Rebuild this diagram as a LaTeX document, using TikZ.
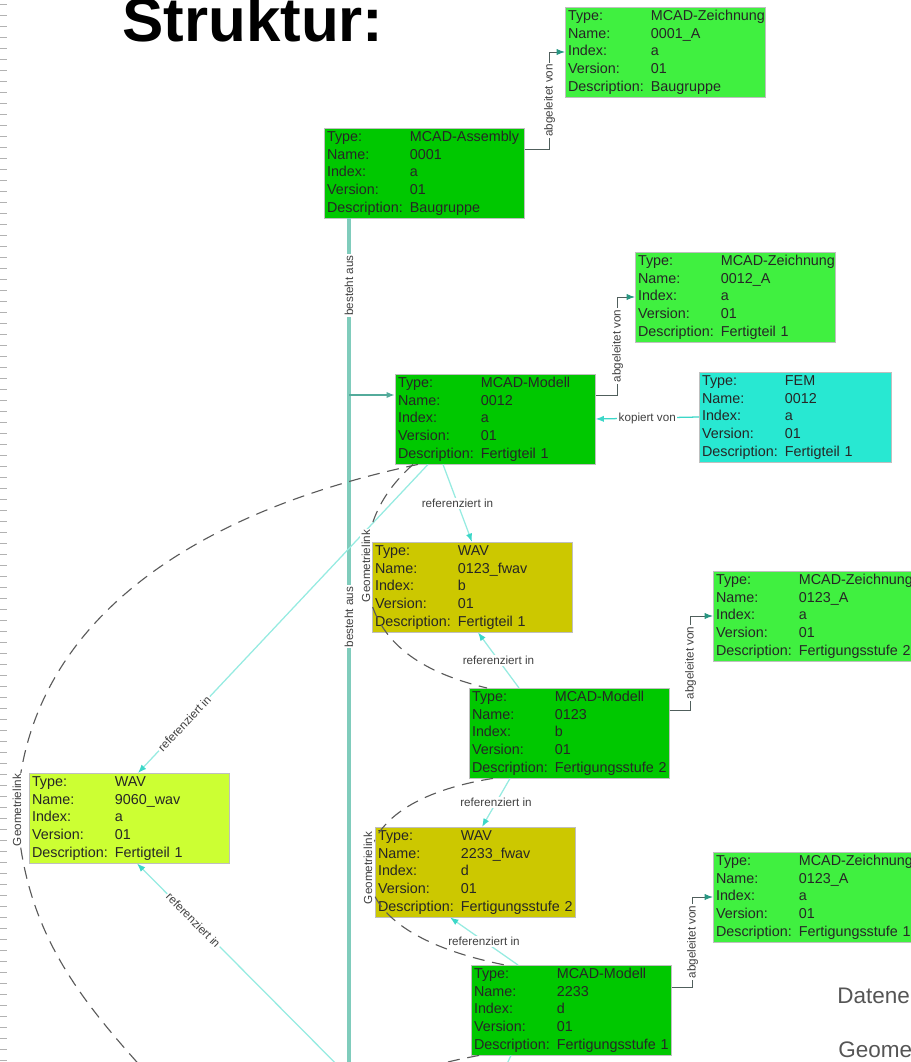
\documentclass[tikz,border=0pt]{standalone}
\usepackage{fontspec}
\setmainfont{Liberation Sans}
\usetikzlibrary{positioning,calc,arrows.meta}

\definecolor{mcadgreen}{RGB}{0,200,0}
\definecolor{zeichgreen}{RGB}{64,240,64}
\definecolor{femcyan}{RGB}{40,232,210}
\definecolor{fwavolive}{RGB}{204,200,0}
\definecolor{wavlime}{RGB}{204,255,51}
\definecolor{trunkline}{RGB}{128,204,188}
\definecolor{arrowteal}{RGB}{40,150,130}
\definecolor{derivline}{RGB}{80,95,92}
\definecolor{refline}{RGB}{150,235,225}
\definecolor{reftip}{RGB}{60,215,200}
\definecolor{geolink}{RGB}{90,90,90}
\definecolor{slidegray}{RGB}{85,85,85}

\newcommand{\attrtable}[5]{%
\begin{tabular}{@{}l@{ }l@{}}
Type: & #1\\
Name: & #2\\
Index: & #3\\
Version: & #4\\
Description: & #5
\end{tabular}}

\begin{document}
\begin{tikzpicture}[x=0.025cm, y=-0.025cm,
>={Latex[length=6pt,width=4.5pt]},
attrbox/.style={anchor=north west, inner xsep=2pt, inner ysep=0.5pt, text width=4.86cm,
align=left, text=black!85, draw=black!25, line width=0.3pt,
font=\fontsize{10.2}{12.6}\selectfont},
mcadbox/.style={attrbox, fill=mcadgreen},
zeichbox/.style={attrbox, fill=zeichgreen},
fembox/.style={attrbox, fill=femcyan, text width=4.66cm},
fwavbox/.style={attrbox, fill=fwavolive},
wavbox/.style={attrbox, fill=wavlime},
lbl/.style={font=\fontsize{8.3}{10}\selectfont, text=black!75, fill=white, inner sep=1pt},
trunk/.style={draw=trunkline, line width=2.2pt},
branch/.style={draw=arrowteal!80, line width=1.2pt, ->},
derived/.style={draw=derivline, line width=0.7pt, >={Latex[length=6pt,width=4.5pt,color=arrowteal]}, ->},
copied/.style={draw=reftip, line width=0.9pt, ->},
referenced/.style={draw=refline, line width=0.9pt, >={Latex[length=6pt,width=4.5pt,color=reftip]}, ->},
geometry/.style={draw=geolink, line width=0.8pt, dash pattern=on 8.5pt off 5.5pt},
edgetick/.style={draw=black!30, line width=0.6pt},
slidetext/.style={text=slidegray, inner sep=0pt, anchor=base west}
]
\useasboundingbox (0,0) rectangle (911,1062);
\clip (0,0) rectangle (911,1062);

%Slide
\foreach \y in {4,15,...,1062} \draw[edgetick] (0,\y) -- (7,\y);
\node[slidetext, font=\fontsize{44}{44}\selectfont\bfseries, text=black] (title) at (122,42) {Struktur:};
\node[slidetext, font=\fontsize{16}{19}\selectfont] (daten) at (837,1003) {Datene};
\node[slidetext, font=\fontsize{16}{19}\selectfont] (geom) at (838,1057) {Geome};

%Nodes
\node[zeichbox] (zeich1) at (565,7)   {\attrtable{MCAD-Zeichnung}{0001\_A}{a}{01}{Baugruppe}};
\node[mcadbox]  (asm)    at (324,128) {\attrtable{MCAD-Assembly}{0001}{a}{01}{Baugruppe}};
\node[zeichbox] (zeich2) at (635,252) {\attrtable{MCAD-Zeichnung}{0012\_A}{a}{01}{Fertigteil 1}};
\node[mcadbox]  (mod1)   at (395,374) {\attrtable{MCAD-Modell}{0012}{a}{01}{Fertigteil 1}};
\node[fembox]   (fem)    at (699,372) {\attrtable{FEM}{0012}{a}{01}{Fertigteil 1}};
\node[fwavbox]  (fwav1)  at (372,542) {\attrtable{WAV}{0123\_fwav}{b}{01}{Fertigteil 1}};
\node[zeichbox] (zeich3) at (713,571) {\attrtable{MCAD-Zeichnung}{0123\_A}{a}{01}{Fertigungsstufe 2}};
\node[mcadbox]  (mod2)   at (469,688) {\attrtable{MCAD-Modell}{0123}{b}{01}{Fertigungsstufe 2}};
\node[wavbox]   (wav)    at (29,773)  {\attrtable{WAV}{9060\_wav}{a}{01}{Fertigteil 1}};
\node[fwavbox]  (fwav2)  at (375,827) {\attrtable{WAV}{2233\_fwav}{d}{01}{Fertigungsstufe 2}};
\node[zeichbox] (zeich4) at (713,852) {\attrtable{MCAD-Zeichnung}{0123\_A}{a}{01}{Fertigungsstufe 1}};
\node[mcadbox]  (mod3)   at (471,965) {\attrtable{MCAD-Modell}{2233}{d}{01}{Fertigungsstufe 1}};

\coordinate (trunktop) at ($(asm.south west)+(25,0)$);
\coordinate (trunkend) at (349,1100);
\coordinate (refsrc1) at (372,1100);
\coordinate (refsrc2) at (490,1100);
\coordinate (geoend1) at (180,1110);
\coordinate (geoend2) at (380,1100);

%Lines
\draw[trunk] (trunktop) -- node[lbl, rotate=90, pos=0.076] {besteht aus}
  node[lbl, rotate=90, pos=0.452] {besteht aus} (trunkend);
\draw[branch] (trunktop |- {$(mod1.north west)+(0,21)$}) -- ($(mod1.north west)+(0,21)$);

\draw[derived] ($(asm.north east)+(0,21)$) -- ++(25,0) |- node[lbl, rotate=90, pos=0.25] {abgeleitet von} ($(zeich1.north west)+(0,45)$);
\draw[derived] ($(mod1.north east)+(0,21)$) -- ++(22,0) |- node[lbl, rotate=90, pos=0.25] {abgeleitet von} ($(zeich2.north west)+(0,45)$);
\draw[derived] ($(mod2.north east)+(0,22)$) -- ++(21,0) |- node[lbl, rotate=90, pos=0.25] {abgeleitet von} ($(zeich3.north west)+(0,45)$);
\draw[derived] ($(mod3.north east)+(0,22)$) -- ++(21,0) |- node[lbl, rotate=90, pos=0.25] {abgeleitet von} ($(zeich4.north west)+(0,45)$);

\draw[copied] ($(fem.north west)+(0,45)$) -- node[lbl] {kopiert von} ($(mod1.north east)+(0,45)$);

\draw[referenced] ($(mod1.south west)+(48,0)$) -- node[lbl] {referenziert in} ($(fwav1.north west)+(100,0)$);
\draw[referenced] ($(mod2.north west)+(50,0)$) -- node[lbl] {referenziert in} ($(fwav1.south west)+(106,0)$);
\draw[referenced] ($(mod2.south west)+(41,0)$) -- node[lbl] {referenziert in} ($(fwav2.north west)+(107,0)$);
\draw[referenced] ($(mod3.north west)+(47,0)$) -- node[lbl] {referenziert in} ($(fwav2.south west)+(75,0)$);
\draw[referenced] ($(mod1.south west)+(33,0)$) -- node[lbl, sloped, pos=0.84] {referenziert in} ($(wav.north west)+(109,0)$);
\draw[referenced] (refsrc1) -- node[lbl, sloped, pos=0.76] {referenziert in} ($(wav.south west)+(108,0)$);
\draw[referenced] ($(mod3.south west)+(40,0)$) -- (refsrc2);

\draw[geometry] ($(mod1.south west)+(23,0)$) .. controls (180,515) and (25,630) .. (17,810)
  node[lbl, rotate=90] {Geometrielink} .. controls (24,950) and (100,1020) .. (geoend1);
\draw[geometry] ($(mod1.south west)+(18,0)$) .. controls (385,490) and (366,520) .. (366,566)
  node[lbl, rotate=90] {Geometrielink} .. controls (366,640) and (420,672) .. ($(mod2.north west)+(18,0)$);
\draw[geometry] ($(mod2.south west)+(24,0)$) .. controls (420,790) and (368,820) .. (368,868)
  node[lbl, rotate=90] {Geometrielink} .. controls (368,920) and (430,950) .. ($(mod3.north west)+(34,0)$);
\draw[geometry] ($(mod3.south west)+(8,0)$) .. controls (430,1065) .. (geoend2);
\end{tikzpicture}
\end{document}
